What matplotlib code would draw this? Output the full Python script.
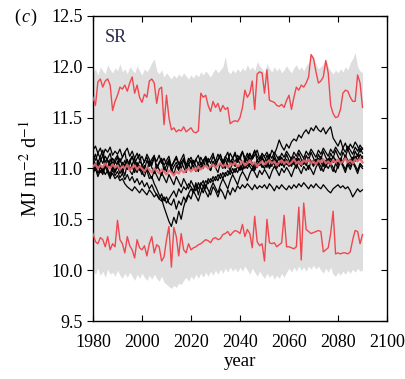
import numpy as np
import matplotlib
matplotlib.use("Agg")
import matplotlib.pyplot as plt

# === Daten ===
years = list(range(1980, 2091))

red_upper = [
    11.70, 11.62, 11.85, 11.88, 11.80, 11.86, 11.88, 11.82, 11.57, 11.66,
    11.72, 11.80, 11.78, 11.82, 11.76, 11.84, 11.90, 11.74, 11.82, 11.70,
    11.65, 11.73, 11.70, 11.86, 11.88, 11.84, 11.64, 11.78, 11.80, 11.43,
    11.72, 11.50, 11.38, 11.40, 11.36, 11.38, 11.37, 11.41, 11.36, 11.38,
    11.40, 11.36, 11.35, 11.37, 11.74, 11.70, 11.72, 11.62, 11.56, 11.66,
    11.60, 11.64, 11.56, 11.62, 11.58, 11.60, 11.44, 11.46, 11.47, 11.46,
    11.50, 11.60, 11.77, 11.70, 11.74, 11.86, 11.58, 11.93, 11.95, 11.94,
    11.74, 11.97, 11.67, 11.66, 11.65, 11.62, 11.61, 11.63, 11.60, 11.67,
    11.72, 11.58, 11.70, 11.80, 11.77, 11.82, 11.80, 11.84, 11.90, 12.12,
    12.08, 11.95, 11.84, 11.86, 11.90, 12.06, 11.94, 11.62, 11.54, 11.50,
    11.51, 11.58, 11.74, 11.77, 11.76, 11.70, 11.66, 11.66, 11.92, 11.84,
    11.60,
]

red_lower = [
    10.36, 10.28, 10.26, 10.32, 10.30, 10.23, 10.33, 10.20, 10.26, 10.23,
    10.49, 10.30, 10.26, 10.17, 10.33, 10.24, 10.20, 10.12, 10.30, 10.22,
    10.20, 10.24, 10.14, 10.26, 10.33, 10.17, 10.25, 10.23, 10.09, 10.13,
    10.30, 10.43, 10.03, 10.42, 10.33, 10.14, 10.36, 10.20, 10.17, 10.26,
    10.20, 10.22, 10.23, 10.25, 10.26, 10.28, 10.30, 10.29, 10.27, 10.31,
    10.32, 10.30, 10.31, 10.35, 10.36, 10.38, 10.34, 10.37, 10.39, 10.38,
    10.36, 10.45, 10.33, 10.40, 10.36, 10.22, 10.53, 10.28, 10.24, 10.26,
    10.09, 10.50, 10.27, 10.26, 10.27, 10.23, 10.25, 10.27, 10.54, 10.23,
    10.23, 10.22, 10.21, 10.23, 10.62, 10.10, 10.66, 10.40, 10.38, 10.36,
    10.37, 10.38, 10.39, 10.38, 10.18, 10.20, 10.22, 10.36, 10.58, 10.16,
    10.17, 10.16, 10.17, 10.17, 10.16, 10.18, 10.30, 10.39, 10.38, 10.26,
    10.35,
]

gray_upper = [
    11.95, 11.98, 11.92, 12.00, 11.96, 11.93, 12.02, 11.97, 11.94, 11.99,
    11.96, 12.03, 11.95, 11.98, 11.93, 12.00, 11.97, 11.94, 12.01, 11.96,
    11.92, 11.98, 11.95, 11.99, 12.04, 12.08, 11.96, 11.93, 11.97, 11.90,
    11.94, 11.91, 11.88, 11.92, 11.89, 11.93, 11.90, 11.94, 11.91, 11.88,
    11.92, 11.89, 11.93, 11.90, 11.95, 11.92, 11.96, 11.93, 11.90, 11.95,
    11.98, 11.94, 11.97, 12.00, 12.10, 11.96, 11.93, 11.97, 11.94, 11.98,
    11.95, 11.99, 11.96, 12.02, 11.97, 12.00, 11.96, 12.05, 12.01, 11.98,
    11.94, 12.03, 11.98, 11.95, 12.00, 11.96, 11.99, 11.94, 11.97, 12.01,
    11.97, 11.94, 11.99, 12.02, 11.97, 12.00, 11.96, 12.01, 12.04, 12.13,
    12.10, 12.02, 11.98, 12.00, 12.03, 12.08, 12.00, 11.96, 11.93, 11.97,
    11.94, 11.98, 11.95, 12.00, 11.97, 12.04, 12.08, 12.14, 12.00, 11.96,
    11.94,
]

gray_lower = [
    10.00, 9.96, 10.02, 9.95, 9.99, 9.93, 10.01, 9.96, 9.98, 9.94,
    10.00, 9.95, 9.92, 9.97, 9.93, 9.98, 9.94, 9.90, 9.96, 9.92,
    9.97, 9.93, 9.90, 9.95, 9.91, 9.96, 9.92, 9.89, 9.94, 9.88,
    9.86, 9.84, 9.82, 9.85, 9.83, 9.87, 9.86, 9.90, 9.93, 9.89,
    9.94, 9.91, 9.96, 9.92, 9.97, 9.93, 9.98, 9.94, 9.99, 9.95,
    10.00, 9.96, 10.01, 9.97, 10.02, 9.98, 10.03, 9.99, 10.02, 9.98,
    10.03, 9.99, 10.04, 10.00, 9.96, 10.02, 9.98, 9.94, 9.99, 9.95,
    9.92, 9.97, 9.93, 9.96, 9.91, 9.95, 9.92, 9.97, 9.93, 9.98,
    10.02, 9.98, 10.03, 9.99, 10.04, 10.00, 10.03, 9.99, 10.04, 10.01,
    10.05, 10.01, 10.04, 10.00, 9.97, 10.02, 9.98, 10.03, 9.96, 9.94,
    9.98, 9.95, 9.99, 9.96, 10.00, 9.97, 10.01, 9.98, 10.02, 9.99,
    10.00,
]

# Ensemble-Mitglieder (schwarz)
member_dip = [
    11.12, 11.08, 11.15, 11.10, 11.05, 11.12, 11.08, 11.02, 11.10, 11.06,
    11.04, 11.10, 11.02, 11.08, 11.00, 11.05, 11.12, 11.03, 11.06, 10.98,
    11.02, 10.96, 10.98, 10.90, 10.92, 10.85, 10.80, 10.74, 10.70, 10.62,
    10.55, 10.48, 10.43, 10.52, 10.46, 10.58, 10.50, 10.62, 10.70, 10.75,
    10.80, 10.76, 10.84, 10.80, 10.86, 10.82, 10.88, 10.85, 10.90, 10.87,
    10.92, 10.88, 10.95, 10.90, 10.96, 10.93, 10.98, 10.95, 11.00, 10.96,
    11.02, 10.98, 11.04, 11.00, 11.05, 11.02, 10.98, 11.04, 11.06, 11.01,
    11.03, 11.07, 11.00, 11.05, 11.08, 11.02, 11.06, 11.03, 11.08, 11.04,
    11.06, 11.02, 11.08, 11.05, 11.10, 11.04, 11.07, 11.03, 11.09, 11.05,
    11.08, 11.04, 11.10, 11.06, 11.02, 11.08, 11.05, 11.10, 11.06, 11.09,
    11.04, 11.10, 11.07, 11.12, 11.05, 11.09, 11.06, 11.12, 11.08, 11.14,
    11.10,
]

member_midlow = [
    11.02, 10.98, 11.05, 10.96, 11.00, 10.94, 10.98, 10.92, 10.95, 10.90,
    10.93, 10.88, 10.90, 10.85, 10.82, 10.80, 10.78, 10.82, 10.79, 10.76,
    10.80, 10.77, 10.74, 10.79, 10.76, 10.72, 10.75, 10.70, 10.68, 10.72,
    10.66, 10.70, 10.74, 10.78, 10.72, 10.80, 10.76, 10.82, 10.79, 10.85,
    10.82, 10.78, 10.86, 10.74, 10.84, 10.88, 10.80, 10.90, 10.86, 10.92,
    10.88, 10.94, 10.90, 10.96, 10.92, 10.98, 10.94, 11.00, 10.96, 11.02,
    10.98, 11.04, 11.00, 11.06, 11.02, 10.98, 11.05, 11.01, 11.07, 11.03,
    11.00, 11.06, 11.02, 11.08, 11.04, 11.00, 11.06, 11.03, 11.09, 11.05,
    11.02, 11.08, 11.04, 11.10, 11.06, 11.02, 11.08, 11.05, 11.11, 11.07,
    11.03, 11.09, 11.05, 11.12, 11.07, 11.03, 11.10, 11.06, 11.12, 11.08,
    11.04, 11.10, 11.06, 11.13, 11.08, 11.05, 11.11, 11.07, 11.14, 11.09,
    11.12,
]

member_rise = [
    11.08, 11.14, 11.05, 11.12, 11.18, 11.06, 11.10, 11.15, 11.04, 11.09,
    11.13, 11.06, 11.11, 11.16, 11.03, 11.08, 11.12, 11.05, 11.10, 11.14,
    11.02, 11.07, 11.11, 11.04, 11.09, 11.13, 11.00, 11.06, 11.10, 11.03,
    11.08, 11.12, 11.01, 11.06, 11.10, 11.04, 11.09, 11.14, 11.02, 11.07,
    11.11, 11.05, 11.09, 11.13, 11.04, 11.08, 11.12, 11.06, 11.10, 11.15,
    11.05, 11.09, 11.13, 11.07, 11.11, 11.16, 11.06, 11.10, 11.14, 11.08,
    11.12, 11.17, 11.07, 11.11, 11.15, 11.09, 11.13, 11.18, 11.10, 11.14,
    11.12, 11.16, 11.10, 11.18, 11.14, 11.20, 11.28, 11.22, 11.18, 11.24,
    11.20, 11.26, 11.29, 11.27, 11.33, 11.30, 11.35, 11.38, 11.34, 11.40,
    11.37, 11.42, 11.38, 11.36, 11.40, 11.34, 11.38, 11.41, 11.30, 11.26,
    11.22, 11.28, 11.20, 11.25, 11.18, 11.24, 11.20, 11.26, 11.22, 11.16,
    11.20,
]

member_lowlate = [
    10.98, 11.04, 10.95, 11.01, 10.97, 11.06, 10.99, 10.94, 11.03, 10.96,
    11.02, 10.95, 11.00, 10.93, 11.05, 10.98, 10.94, 11.01, 10.96, 11.03,
    10.97, 10.92, 11.00, 10.95, 10.90, 10.98, 10.93, 10.88, 10.96, 10.91,
    10.86, 10.94, 10.89, 10.84, 10.92, 10.87, 10.82, 10.90, 10.85, 10.80,
    10.88, 10.83, 10.78, 10.86, 10.81, 10.76, 10.84, 10.79, 10.74, 10.82,
    10.78, 10.72, 10.80, 10.76, 10.70, 10.79, 10.74, 10.81, 10.77, 10.83,
    10.80, 10.84, 10.81, 10.85, 10.82, 10.79, 10.84, 10.80, 10.83, 10.81,
    10.84, 10.80, 10.85, 10.82, 10.78, 10.83, 10.80, 10.84, 10.81, 10.79,
    10.83, 10.80, 10.84, 10.81, 10.85, 10.82, 10.86, 10.83, 10.80, 10.84,
    10.81, 10.85, 10.82, 10.80, 10.84, 10.81, 10.78, 10.76, 10.80, 10.82,
    10.84, 10.81, 10.83, 10.80, 10.82, 10.78, 10.72, 10.76, 10.80, 10.77,
    10.79,
]

member_high = [
    11.18, 11.22, 11.15, 11.20, 11.12, 11.19, 11.16, 11.21, 11.13, 11.17,
    11.14, 11.19, 11.11, 11.16, 11.20, 11.12, 11.17, 11.10, 11.15, 11.08,
    11.12, 11.06, 11.14, 11.09, 11.03, 11.11, 11.07, 11.13, 11.05, 11.10,
    11.04, 11.09, 11.02, 11.07, 11.12, 11.05, 11.00, 11.08, 11.03, 11.10,
    11.06, 11.01, 11.09, 11.04, 11.11, 11.06, 11.02, 11.10, 11.05, 11.12,
    11.07, 11.14, 11.09, 11.04, 11.12, 11.08, 11.15, 11.10, 11.06, 11.13,
    11.09, 11.16, 11.11, 11.07, 11.14, 11.10, 11.17, 11.12, 11.08, 11.15,
    11.11, 11.07, 11.14, 11.10, 11.16, 11.12, 11.08, 11.15, 11.11, 11.17,
    11.13, 11.09, 11.16, 11.12, 11.18, 11.14, 11.10, 11.17, 11.13, 11.19,
    11.15, 11.11, 11.18, 11.14, 11.20, 11.16, 11.12, 11.19, 11.15, 11.21,
    11.17, 11.13, 11.20, 11.16, 11.22, 11.18, 11.14, 11.21, 11.17, 11.23,
    11.19,
]

member_mid = [
    11.05, 10.99, 11.08, 11.02, 10.96, 11.06, 11.00, 11.09, 11.03, 10.97,
    11.07, 11.01, 10.95, 11.04, 10.99, 11.08, 11.02, 10.96, 11.05, 11.00,
    10.94, 11.03, 10.98, 11.07, 11.01, 10.95, 11.04, 10.99, 10.93, 11.02,
    10.97, 11.06, 11.00, 10.94, 11.03, 10.98, 11.07, 11.01, 10.96, 11.05,
    10.99, 11.08, 11.02, 10.97, 11.06, 11.00, 11.09, 11.03, 10.98, 11.07,
    11.01, 10.96, 11.05, 11.00, 11.09, 11.03, 10.98, 11.07, 11.02, 11.10,
    11.04, 10.99, 11.08, 11.03, 11.11, 11.05, 11.00, 11.09, 11.04, 11.12,
    11.06, 11.01, 11.10, 11.05, 11.13, 11.07, 11.02, 11.11, 11.06, 11.14,
    11.08, 11.03, 11.12, 11.07, 11.15, 11.09, 11.04, 11.13, 11.08, 11.16,
    11.10, 11.05, 11.14, 11.09, 11.17, 11.11, 11.06, 11.15, 11.10, 11.18,
    11.12, 11.07, 11.16, 11.11, 11.19, 11.13, 11.08, 11.17, 11.12, 11.20,
    11.15,
]

member_dip2 = [
    10.95, 11.00, 10.92, 10.98, 10.94, 11.02, 10.96, 10.90, 10.99, 10.93,
    10.97, 10.91, 10.95, 10.89, 10.94, 10.88, 10.92, 10.86, 10.90, 10.84,
    10.88, 10.82, 10.86, 10.80, 10.84, 10.78, 10.74, 10.70, 10.75, 10.68,
    10.72, 10.66, 10.64, 10.70, 10.60, 10.68, 10.64, 10.72, 10.67, 10.74,
    10.70, 10.78, 10.73, 10.68, 10.76, 10.82, 10.77, 10.72, 10.80, 10.86,
    10.81, 10.76, 10.84, 10.90, 10.85, 10.80, 10.88, 10.94, 10.89, 10.84,
    10.92, 10.97, 10.93, 10.88, 10.95, 11.00, 10.96, 10.91, 10.98, 10.94,
    10.99, 10.95, 10.90, 10.97, 11.02, 10.98, 10.93, 11.00, 10.96, 11.01,
    10.97, 10.92, 10.99, 11.04, 11.00, 10.95, 11.02, 10.98, 11.03, 10.99,
    10.94, 11.01, 11.06, 11.02, 10.97, 11.04, 11.00, 11.05, 11.01, 10.96,
    11.03, 11.08, 11.04, 10.99, 11.06, 11.02, 11.07, 11.03, 10.98, 11.05,
    11.02,
]

member_mid2 = [
    11.10, 11.04, 11.00, 11.07, 11.13, 11.02, 11.08, 11.05, 10.99, 11.06,
    11.11, 11.00, 11.06, 11.03, 11.09, 10.98, 11.04, 11.10, 11.01, 11.07,
    11.04, 10.99, 11.08, 11.02, 11.06, 11.12, 11.00, 11.05, 11.09, 10.98,
    11.03, 11.07, 10.97, 11.02, 11.06, 11.00, 11.05, 11.10, 10.99, 11.04,
    11.08, 11.02, 10.97, 11.05, 11.00, 11.06, 11.11, 11.03, 10.98, 11.07,
    11.02, 11.08, 11.14, 11.05, 11.00, 11.09, 11.04, 11.10, 11.16, 11.06,
    11.11, 11.04, 11.09, 11.15, 11.07, 11.12, 11.18, 11.08, 11.03, 11.10,
    11.06, 11.13, 11.08, 11.02, 11.10, 11.05, 11.12, 11.07, 11.01, 11.09,
    11.04, 11.11, 11.06, 11.00, 11.08, 11.03, 11.10, 11.05, 10.99, 11.07,
    11.02, 11.09, 11.04, 10.98, 11.06, 11.01, 11.08, 11.03, 10.97, 11.05,
    11.00, 11.07, 11.02, 10.96, 11.04, 10.99, 11.06, 11.01, 10.95, 11.03,
    11.00,
]

members = [member_dip, member_midlow, member_rise, member_lowlate,
           member_high, member_mid, member_dip2, member_mid2]

ens_mean = [
    11.02, 11.04, 11.00, 11.03, 11.01, 11.05, 11.02, 11.00, 11.04, 11.01,
    11.03, 10.99, 11.02, 11.00, 11.04, 10.98, 11.01, 11.03, 10.99, 11.02,
    11.00, 10.97, 11.01, 10.99, 10.96, 11.00, 10.98, 10.95, 10.99, 10.97,
    10.94, 10.98, 10.96, 10.93, 10.97, 10.95, 10.99, 10.96, 10.98, 11.00,
    10.97, 11.00, 10.98, 11.02, 10.99, 11.01, 11.03, 11.00, 11.02, 11.04,
    11.01, 11.03, 11.05, 11.02, 11.04, 11.01, 11.05, 11.03, 11.06, 11.02,
    11.04, 11.07, 11.03, 11.05, 11.08, 11.04, 11.06, 11.02, 11.05, 11.07,
    11.04, 11.06, 11.08, 11.05, 11.07, 11.03, 11.06, 11.08, 11.05, 11.07,
    11.04, 11.06, 11.09, 11.05, 11.07, 11.04, 11.08, 11.06, 11.09, 11.05,
    11.07, 11.04, 11.08, 11.06, 11.09, 11.05, 11.07, 11.04, 11.08, 11.06,
    11.09, 11.05, 11.07, 11.10, 11.06, 11.08, 11.05, 11.09, 11.07, 11.10,
    11.06,
]

xticks = [1980, 2000, 2020, 2040, 2060, 2080, 2100]
yticks = [9.5, 10.0, 10.5, 11.0, 11.5, 12.0, 12.5]

# === Stil ===
plt.rcParams["font.family"] = ["Liberation Serif", "DejaVu Serif"]
plt.rcParams["mathtext.fontset"] = "stix"

fig = plt.figure(figsize=(4.05, 3.79), dpi=100)
ax = fig.add_axes([0.2296, 0.153, 0.726, 0.805])

ax.fill_between(years, gray_lower, gray_upper, color="#dedede", linewidth=0, zorder=1)
ax.plot(years, red_upper, color="#f0474f", linewidth=1.0, zorder=3)
ax.plot(years, red_lower, color="#f0474f", linewidth=1.0, zorder=3)
for m in members:
    ax.plot(years, m, color="black", linewidth=0.9, zorder=4)
ax.plot(years, ens_mean, color="#e86a72", linewidth=1.6, alpha=0.9, zorder=5)

ax.set_xlim(1980, 2100)
ax.set_ylim(9.5, 12.5)
ax.set_xticks(xticks)
ax.set_yticks(yticks)
ax.set_yticklabels([f"{v:.1f}" for v in yticks])
ax.tick_params(axis="x", direction="in", length=4, labelsize=13, top=True, pad=9)
ax.tick_params(axis="y", direction="out", length=4, labelsize=13)
ax.tick_params(axis="y", which="both", right=True)
for t in ax.yaxis.get_ticklines()[1::2]:
    t.set_marker(0)

ax.set_xlabel("year", fontsize=13.5, labelpad=2)
ax.set_ylabel(r"MJ m$^{-2}$ d$^{-1}$", fontsize=14.5, labelpad=7)
ax.text(0.04, 0.93, "SR", transform=ax.transAxes, fontsize=13, color="#2a2a50", va="center")
fig.text(0.035, 0.955, "(", fontsize=13, va="center")
fig.text(0.052, 0.955, "c", fontsize=13, style="italic", va="center")
fig.text(0.075, 0.955, ")", fontsize=13, va="center")

for s in ax.spines.values():
    s.set_linewidth(1.0)

plt.savefig("out.png", dpi=100)
